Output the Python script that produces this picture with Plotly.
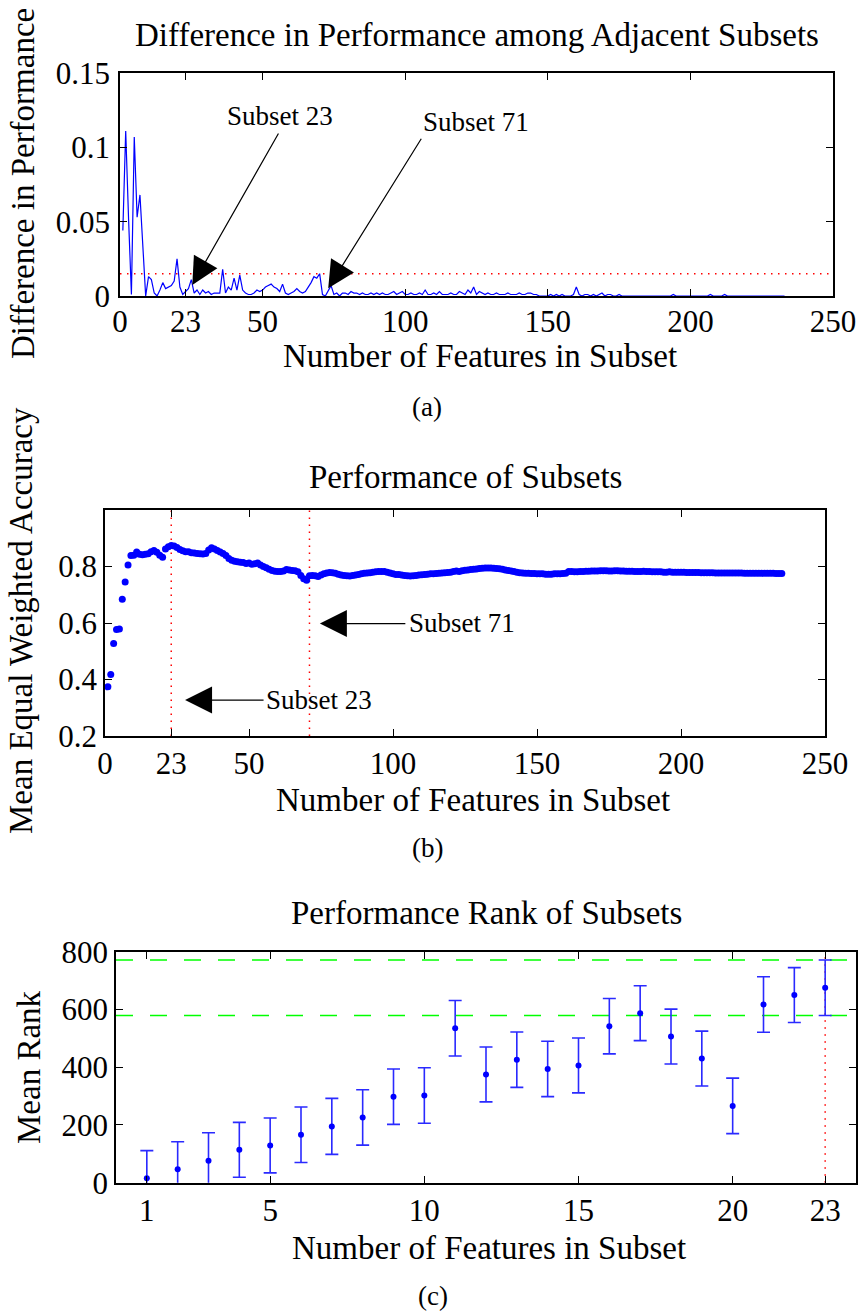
import plotly.graph_objects as go

W, H = 861, 1311

# ---------------- data ----------------
diff_x = list(range(1, 234))
diff_vals = [
    0.044, 0.111, 0.052, 0.001, 0.107, 0.053, 0.068, 0.034, 0.000, 0.013,
    0.011, 0.002, 0.000, 0.004, 0.009, 0.005, 0.006, 0.007, 0.010, 0.025,
    0.006, 0.001, 0.003, 0.005, 0.011, 0.002, 0.004, 0.001, 0.004, 0.002,
    0.003, 0.001, 0.002, 0.002, 0.002, 0.018, 0.002, 0.006, 0.004, 0.012,
    0.004, 0.014, 0.004, 0.002, 0.001, 0.001, 0.002, 0.004, 0.003, 0.004,
    0.006, 0.007, 0.008, 0.006, 0.005, 0.003, 0.008, 0.002, 0.001, 0.002,
    0.003, 0.005, 0.003, 0.002, 0.003, 0.006, 0.009, 0.013, 0.012, 0.015,
    0.001, 0.000, 0.004, 0.007, 0.001, 0.002, 0.000, 0.002, 0.002, 0.001,
    0.003, 0.002, 0.002, 0.001, 0.002, 0.001, 0.001, 0.002, 0.001, 0.002,
    0.001, 0.002, 0.001, 0.001, 0.002, 0.003, 0.001, 0.002, 0.003, 0.001,
    0.001, 0.002, 0.001, 0.001, 0.002, 0.001, 0.004, 0.001, 0.001, 0.002,
    0.001, 0.003, 0.001, 0.001, 0.001, 0.002, 0.001, 0.001, 0.003, 0.002,
    0.001, 0.004, 0.002, 0.006, 0.001, 0.003, 0.002, 0.001, 0.002, 0.001,
    0.001, 0.002, 0.001, 0.001, 0.001, 0.002, 0.001, 0.001, 0.001, 0.002,
    0.001, 0.001, 0.002, 0.002, 0.001, 0.001, 0.000, 0.000, 0.000, 0.000,
    0.001, 0.000, 0.001, 0.000, 0.001, 0.000, 0.000, 0.000, 0.001, 0.006,
    0.001, 0.000, 0.001, 0.001, 0.000, 0.001, 0.000, 0.001, 0.002, 0.000,
    0.001, 0.001, 0.000, 0.000, 0.001, 0.000, 0.000, 0.000, 0.000, 0.000,
    0.000, 0.000, 0.000, 0.000, 0.000, 0.000, 0.000, 0.000, 0.000, 0.000,
    0.000, 0.000, 0.000, 0.001, 0.000, 0.000, 0.000, 0.000, 0.000, 0.000,
    0.000, 0.000, 0.000, 0.000, 0.000, 0.000, 0.001, 0.000, 0.000, 0.000,
    0.000, 0.001, 0.000, 0.000, 0.000, 0.000, 0.000, 0.000, 0.000, 0.000,
    0.000, 0.000, 0.000, 0.000, 0.000, 0.000, 0.000, 0.000, 0.000, 0.000,
    0.000, 0.000, 0.000,
]
diff_threshold = 0.015

perf_x = list(range(1, 236))
perf_vals = [
    0.374, 0.418, 0.527, 0.577, 0.579, 0.684, 0.745, 0.805, 0.839, 0.840,
    0.851, 0.843, 0.842, 0.843, 0.845, 0.852, 0.857, 0.850, 0.840, 0.833,
    0.862, 0.870, 0.874, 0.873, 0.867, 0.860, 0.856, 0.852, 0.852, 0.849,
    0.848, 0.846, 0.845, 0.844, 0.846, 0.858, 0.866, 0.862, 0.857, 0.851,
    0.846, 0.839, 0.828, 0.822, 0.819, 0.817, 0.815, 0.814, 0.811, 0.812,
    0.808, 0.810, 0.812, 0.805, 0.800, 0.796, 0.790, 0.786, 0.783, 0.782,
    0.782, 0.784, 0.789, 0.788, 0.786, 0.785, 0.781, 0.768, 0.757, 0.751,
    0.767, 0.768, 0.767, 0.765, 0.770, 0.774, 0.777, 0.779, 0.778, 0.776,
    0.773, 0.770, 0.768, 0.767, 0.766, 0.768, 0.770, 0.772, 0.774, 0.776,
    0.777, 0.778, 0.780, 0.781, 0.782, 0.782, 0.782, 0.780, 0.777, 0.774,
    0.772, 0.772, 0.770, 0.768, 0.767, 0.766, 0.767, 0.768, 0.770, 0.771,
    0.772, 0.773, 0.774, 0.774, 0.775, 0.776, 0.777, 0.778, 0.779, 0.780,
    0.782, 0.784, 0.782, 0.785, 0.787, 0.788, 0.789, 0.790, 0.791, 0.793,
    0.794, 0.795, 0.795, 0.795, 0.794, 0.793, 0.792, 0.790, 0.788, 0.786,
    0.784, 0.782, 0.780, 0.778, 0.777, 0.776, 0.776, 0.775, 0.775, 0.774,
    0.774, 0.774, 0.773, 0.773, 0.773, 0.774, 0.774, 0.774, 0.775, 0.776,
    0.782, 0.782, 0.781, 0.781, 0.782, 0.782, 0.783, 0.783, 0.784, 0.784,
    0.784, 0.785, 0.785, 0.785, 0.784, 0.784, 0.785, 0.785, 0.784, 0.784,
    0.783, 0.783, 0.783, 0.782, 0.782, 0.782, 0.783, 0.782, 0.782, 0.781,
    0.781, 0.781, 0.781, 0.780, 0.780, 0.781, 0.780, 0.780, 0.780, 0.780,
    0.780, 0.779, 0.779, 0.779, 0.779, 0.779, 0.778, 0.778, 0.778, 0.778,
    0.778, 0.777, 0.777, 0.777, 0.777, 0.777, 0.777, 0.777, 0.777, 0.777,
    0.777, 0.776, 0.776, 0.776, 0.776, 0.776, 0.776, 0.776, 0.776, 0.776,
    0.776, 0.776, 0.775, 0.775, 0.775,
]
marked_subsets = [23, 71]

rank_x = list(range(1, 24))
rank_mean = [15, 47, 76, 114, 129, 166, 195, 226, 298, 302, 535, 375,
             426, 394, 406, 542, 587, 506, 430, 266, 617, 650, 675]
rank_err = [96, 95, 97, 95, 95, 96, 97, 96, 96, 96, 96, 95,
            96, 96, 95, 96, 95, 95, 95, 96, 96, 95, 96]
rank_bounds = [771, 579]

xticks_ab = [0, 23, 50, 100, 150, 200, 250]
yticks_a = [0, 0.05, 0.1, 0.15]
yticks_b = [0.2, 0.4, 0.6, 0.8]
xticks_c = [1, 5, 10, 15, 20, 23]
yticks_c = [0, 200, 400, 600, 800]

# ---------------- style ----------------
TXT = "Liberation Serif, Times New Roman, serif"
TICK = "Liberation Serif, Times New Roman, serif"
BLUE = "#0000ff"
EBLUE = "#2a2aff"
RED = "#ff0000"
GREEN = "#00ff00"


def fx(p):
    return p / W


def fy(p):
    return 1 - p / H


fig = go.Figure()

# panel (a)
fig.add_trace(go.Scatter(x=diff_x, y=diff_vals, mode="lines",
                         line=dict(color=BLUE, width=1.2), xaxis="x", yaxis="y"))
fig.add_trace(go.Scatter(x=[xticks_ab[0], xticks_ab[-1]], y=[diff_threshold, diff_threshold],
                         mode="lines", line=dict(color=RED, width=1.5, dash="1.5px,5.5px"),
                         xaxis="x", yaxis="y"))

# panel (b)
for s in marked_subsets:
    fig.add_trace(go.Scatter(x=[s, s], y=[0.2, 1.0], mode="lines",
                             line=dict(color=RED, width=1.5, dash="1.5px,5.5px"),
                             xaxis="x2", yaxis="y2"))
fig.add_trace(go.Scatter(x=perf_x, y=perf_vals, mode="markers",
                         marker=dict(color=BLUE, size=7, line=dict(width=0)),
                         xaxis="x2", yaxis="y2"))

# panel (c)
for b in rank_bounds:
    fig.add_trace(go.Scatter(x=[0, 24], y=[b, b], mode="lines",
                             line=dict(color=GREEN, width=1.5, dash="17px,17px"),
                             xaxis="x3", yaxis="y3"))
fig.add_trace(go.Scatter(x=[rank_x[-1], rank_x[-1]], y=[0, 800], mode="lines",
                         line=dict(color=RED, width=1.5, dash="1.5px,5.5px"),
                         xaxis="x3", yaxis="y3"))
fig.add_trace(go.Scatter(x=rank_x, y=rank_mean, mode="markers",
                         marker=dict(color=BLUE, size=6, line=dict(width=0)),
                         error_y=dict(type="data", array=rank_err, visible=True,
                                      color=EBLUE, thickness=1.6, width=6.5),
                         xaxis="x3", yaxis="y3"))


def axis(dom, rng, tv, anchor, standoff):
    return dict(domain=dom, range=rng, tickvals=tv, ticks="inside", ticklen=7,
                tickwidth=1.2, tickcolor="black", showline=True, linecolor="black",
                linewidth=1.6, mirror="ticks", showgrid=False, zeroline=False,
                anchor=anchor, ticklabelstandoff=standoff, automargin=False,
                tickfont=dict(family=TICK, size=31, color="black"))


layout = dict(
    width=W, height=H, margin=dict(l=0, r=0, t=0, b=0, pad=0, autoexpand=False),
    paper_bgcolor="white", plot_bgcolor="white", showlegend=False,
    xaxis=axis([fx(120), fx(833)], [0, 250], xticks_ab, "y", -3),
    yaxis=axis([fy(296), fy(73)], [0, 0.15], yticks_a, "x", 2),
    xaxis2=axis([fx(105), fx(825)], [0, 250], xticks_ab, "y2", -1),
    yaxis2=axis([fy(736), fy(510)], [0.2, 1.0], yticks_b, "x2", 0),
    xaxis3=axis([fx(116), fx(856)], [0, 24], xticks_c, "y3", -1),
    yaxis3=axis([fy(1182.7), fy(951.7)], [0, 800], yticks_c, "x3", 0),
)

ann = []


def text(s, px, py, size=33, angle=0, family=TXT):
    ann.append(dict(text=s, x=fx(px), y=fy(py), xref="paper", yref="paper",
                    xanchor="center", yanchor="middle", showarrow=False,
                    textangle=angle, font=dict(family=family, size=size, color="black")))


# titles
text("Difference in Performance among Adjacent Subsets", 476.5, 35)
text("Performance of Subsets", 465, 477)
text("Performance Rank of Subsets", 486, 913)
# x labels
text("Number of Features in Subset", 480, 356.5)
text("Number of Features in Subset", 473, 799.5)
text("Number of Features in Subset", 489, 1248)
# y labels
text("Difference in Performance", 23, 184, angle=-90)
text("Mean Equal Weighted Accuracy", 21, 621, angle=-90)
text("Mean Rank", 29, 1067, angle=-90)
# captions
text("(a)", 427, 407, size=27)
text("(b)", 427, 848, size=27)
text("(c)", 433, 1296, size=27)

# subset labels
text("Subset 23", 279.5, 116, size=27)
text("Subset 71", 475.8, 121.7, size=27)
text("Subset 71", 461.7, 623.3, size=27)
text("Subset 23", 319, 700, size=27)


def arrow(xr, yr, x, y, ax, ay):
    ann.append(dict(text="", x=x, y=y, xref=xr, yref=yr, ax=ax, ay=ay,
                    showarrow=True, arrowhead=2, arrowsize=4.5, arrowwidth=1.2,
                    arrowcolor="black"))


arrow("x", "y", 25.35, 0.0074, 87, -153)
arrow("x", "y", 73.0, 0.0052, 94, -151)
arrow("x2", "y2", 74.6, 0.598, 87, 0)
arrow("x2", "y2", 27.8, 0.327, 80, 0)

layout["annotations"] = ann
fig.update_layout(**layout)
fig.write_html(
    "out.html",
    config={"displayModeBar": False},
    post_script="document.body.style.margin='0';document.body.style.padding='0';",
)
